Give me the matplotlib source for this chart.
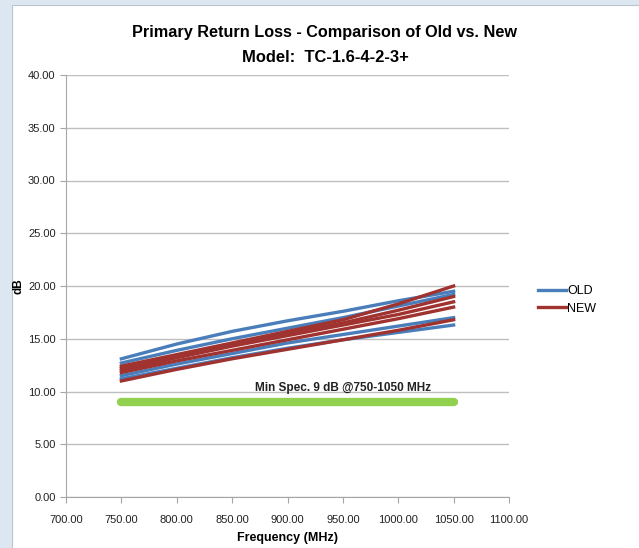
import matplotlib.pyplot as plt
from matplotlib.patches import Rectangle
from matplotlib.lines import Line2D

plt.rcParams['font.family'] = ['Liberation Sans', 'DejaVu Sans']

# frequency points (MHz)
freq = [750, 800, 850, 900, 950, 1000, 1050]

# OLD units (dB)
old1 = [13.1, 14.5, 15.7, 16.7, 17.6, 18.6, 19.5]
old2 = [12.7, 13.9, 15.0, 16.0, 17.0, 18.1, 19.2]
old3 = [11.5, 12.6, 13.6, 14.6, 15.4, 16.2, 17.0]
old4 = [11.2, 12.2, 13.2, 14.1, 14.9, 15.6, 16.3]
old_units = [old1, old2, old3, old4]

# NEW units (dB)
new1 = [12.4, 13.5, 14.6, 15.7, 16.8, 18.3, 20.0]
new2 = [12.2, 13.3, 14.4, 15.5, 16.5, 17.7, 19.0]
new3 = [12.0, 13.2, 14.3, 15.3, 16.3, 17.3, 18.5]
new4 = [11.8, 12.9, 13.9, 14.9, 15.9, 16.9, 18.0]
new5 = [11.0, 12.1, 13.1, 14.0, 14.9, 15.8, 16.8]
new_units = [new1, new2, new3, new4, new5]

spec_freq = [750, 1050]
spec_db = [9, 9]

blue = '#4a7ebb'
red = '#a0322f'
grey = '#a6a6a6'

fig = plt.figure(figsize=(6.39, 5.48), dpi=100)
fig.patch.set_facecolor('#dde7f1')
bg = fig.add_axes([0, 0, 1, 1], zorder=0)
bg.axis('off')
bg.set_xlim(0, 1)
bg.set_ylim(0, 1)
bg.add_patch(Rectangle((12/639, -0.01), 1, 1.01 - 5/548, facecolor='white',
                       edgecolor='#b8c4d0', lw=0.8))

ax = fig.add_axes([66/639, 51/548, 443/639, 422/548], zorder=1)
ax.set_facecolor('none')

for y in old_units:
    ax.plot(freq, y, color=blue, lw=2.4, zorder=3)
for y in new_units:
    ax.plot(freq, y, color=red, lw=2.4, zorder=3)

ax.plot(spec_freq, spec_db, color='#92d050', lw=6, solid_capstyle='round', zorder=3)
ax.text(950, 10.3, 'Min Spec. 9 dB @750-1050 MHz', ha='center', va='center',
        fontsize=8.5, fontweight='bold', color='#222222', zorder=4)

ax.set_xlim(700, 1100)
ax.set_ylim(0, 40)
ax.set_xticks(range(700, 1101, 50))
ax.set_yticks(range(0, 41, 5))
ax.set_xticklabels(['%.2f' % v for v in range(700, 1101, 50)])
ax.set_yticklabels(['%.2f' % v for v in range(0, 41, 5)])
ax.tick_params(labelsize=8, color=grey, length=4, direction='out', labelcolor='#222222')
ax.tick_params(axis='x', pad=9)
ax.yaxis.grid(True, color='#bfbfbf', lw=1)
ax.set_axisbelow(True)
for s in ['top', 'right']:
    ax.spines[s].set_visible(False)
for s in ['left', 'bottom']:
    ax.spines[s].set_color(grey)

ax.set_xlabel('Frequency (MHz)', fontsize=9, fontweight='bold', labelpad=5)
fig.text(19/639, 1 - 286/548, 'dB', rotation=90, ha='center', va='center',
         fontsize=8.5, fontweight='bold')

fig.text(325/639, 1 - 32/548, 'Primary Return Loss - Comparison of Old vs. New',
         ha='center', va='center', fontsize=11.7, fontweight='bold')
fig.text(325/639, 1 - 57/548, 'Model:  TC-1.6-4-2-3+',
         ha='center', va='center', fontsize=11.9, fontweight='bold')

handles = [Line2D([], [], color=blue, lw=2.4), Line2D([], [], color=red, lw=2.4)]
fig.legend(handles, ['OLD', 'NEW'], loc='center left', bbox_to_anchor=(527/639, 1 - 300/548),
           frameon=False, fontsize=9, handlelength=2.2, handletextpad=0.1, labelspacing=0.4)

fig.savefig('out.png', dpi=100)
